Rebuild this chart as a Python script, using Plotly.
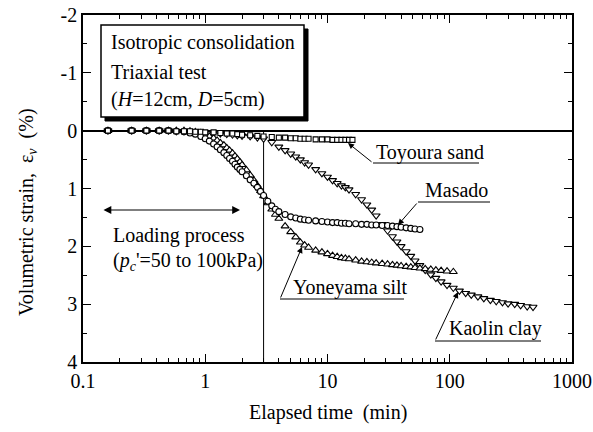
import plotly.graph_objects as go

# ---------------- data ----------------
toyoura_t = [0.16, 0.25, 0.33, 0.42, 0.5, 0.58, 0.67, 0.75, 0.83, 0.92, 1.0, 1.17, 1.33, 1.5,
             1.67, 1.83, 2.0, 2.33, 2.67, 3.0, 3.5, 4.0, 4.5, 5.0, 5.5, 6.0, 6.5, 7.0, 8.0, 9.0,
             10.0, 11.0, 12.0, 13.0, 14.0, 15.0, 16.0]
toyoura_e = [0, 0, 0, 0, 0, 0.01, 0.01, 0.01, 0.02, 0.02, 0.03, 0.03, 0.04, 0.05,
             0.05, 0.06, 0.07, 0.08, 0.09, 0.10, 0.11, 0.12, 0.12, 0.13, 0.13, 0.14, 0.14, 0.14, 0.15, 0.15,
             0.15, 0.16, 0.16, 0.16, 0.16, 0.16, 0.16]

masado_t = [0.16, 0.25, 0.33, 0.42, 0.5, 0.58, 0.67, 0.75, 0.83, 0.92, 1.0, 1.08, 1.17, 1.25,
            1.33, 1.42, 1.5, 1.58, 1.67, 1.75, 1.83, 1.92, 2.0, 2.17, 2.33, 2.5, 2.67, 2.83, 3.0,
            3.25, 3.5, 3.75, 4.0, 4.5, 5.0, 5.5, 6.0, 6.5, 7.0, 8.0, 9.0, 10, 11, 12, 13, 14, 15,
            17, 19, 21, 23, 25, 28, 31, 34, 37, 40, 44, 48, 52, 57]
masado_e = [0, 0, 0, 0, 0, 0.01, 0.02, 0.04, 0.06, 0.10, 0.14, 0.18, 0.23, 0.28,
            0.33, 0.38, 0.43, 0.48, 0.53, 0.58, 0.63, 0.67, 0.71, 0.78, 0.85, 0.91, 0.98, 1.05, 1.12,
            1.22, 1.30, 1.36, 1.40, 1.45, 1.49, 1.51, 1.53, 1.54, 1.55, 1.56, 1.57, 1.58, 1.59, 1.59, 1.60, 1.60, 1.61,
            1.61, 1.62, 1.62, 1.63, 1.63, 1.64, 1.64, 1.65, 1.66, 1.67, 1.68, 1.69, 1.70, 1.71]

yoneyama_t = [0.16, 0.25, 0.33, 0.42, 0.5, 0.58, 0.67, 0.75, 0.83, 0.92, 1.0, 1.08, 1.17, 1.25,
              1.33, 1.42, 1.5, 1.58, 1.67, 1.75, 1.83, 1.92, 2.0, 2.17, 2.33, 2.5, 2.67, 2.83, 3.0,
              3.25, 3.5, 3.75, 4.0, 4.5, 5.0, 5.5, 6.0, 6.5, 7.0, 8.0, 9.0, 10, 11, 12, 13, 14, 15,
              17, 19, 21, 23, 25, 28, 31, 34, 37, 40, 44, 48, 52, 57, 63, 70, 77, 85, 95, 107]
yoneyama_e = [0, 0, 0, 0, 0, 0, 0, 0.01, 0.02, 0.04, 0.07, 0.10, 0.13, 0.17,
              0.21, 0.25, 0.30, 0.34, 0.39, 0.44, 0.49, 0.54, 0.59, 0.68, 0.77, 0.86, 0.95, 1.04, 1.13,
              1.25, 1.36, 1.45, 1.52, 1.65, 1.75, 1.84, 1.93, 1.98, 2.02, 2.07, 2.10, 2.13, 2.16, 2.18, 2.20, 2.21, 2.22,
              2.24, 2.26, 2.27, 2.28, 2.29, 2.30, 2.31, 2.32, 2.33, 2.34, 2.35, 2.36, 2.37, 2.38, 2.39, 2.40, 2.41, 2.42, 2.43, 2.44]

kaolin_t = [0.16, 0.25, 0.33, 0.42, 0.5, 0.58, 0.67, 0.75, 0.83, 0.92, 1.0, 1.17, 1.33, 1.5,
            1.67, 1.83, 2.0, 2.33, 2.67, 3.0, 3.5, 4.0, 4.5, 5.0, 5.5, 6.0, 6.5, 7.0, 8.0, 9.0,
            10, 11, 12, 13, 14, 15, 17, 19, 21, 23, 25, 28, 31, 34, 37, 40, 44, 48, 52, 57, 63,
            70, 77, 85, 95, 107, 120, 135, 150, 170, 190, 215, 240, 270, 300, 340, 380, 430, 480]
kaolin_e = [0, 0, 0, 0, 0, 0.01, 0.01, 0.02, 0.02, 0.03, 0.03, 0.04, 0.05, 0.06,
            0.07, 0.08, 0.09, 0.10, 0.12, 0.14, 0.20, 0.28, 0.34, 0.40, 0.45, 0.50, 0.55, 0.59, 0.67, 0.74,
            0.80, 0.86, 0.91, 0.95, 0.98, 1.02, 1.10, 1.19, 1.28, 1.37, 1.47, 1.62, 1.73, 1.83, 1.92, 2.00, 2.09, 2.17, 2.25, 2.33, 2.41,
            2.49, 2.55, 2.61, 2.67, 2.72, 2.77, 2.81, 2.84, 2.87, 2.90, 2.93, 2.95, 2.97, 2.99, 3.00, 3.02, 3.04, 3.05]

loading_end_t = [3, 3]
loading_end_e = [0, 4]

x_tickvals = [0.1, 1, 10, 100, 1000]
x_ticktext = ["0.1", "1", "10", "100", "1000"]
x_minor = [m * 10 ** k for k in range(-1, 3) for m in range(2, 10)]
y_tickvals = [-2, -1, 0, 1, 2, 3, 4]
y_ticktext = ["-2", "-1", "0", "1", "2", "3", "4"]

FONT = "Liberation Serif"

# ---------------- layout geometry (pixels) ----------------
W, H = 593, 432
L, R, T, B = 83, 572, 15, 362


def px(x):
    return (x - L) / (R - L)


def py(y):
    return (B - y) / (B - T)


fig = go.Figure()

mk = dict(color="white", line=dict(color="black", width=1.1))
fig.add_trace(go.Scatter(x=loading_end_t, y=loading_end_e, mode="lines",
                         line=dict(color="black", width=1), showlegend=False, hoverinfo="skip"))
fig.add_trace(go.Scatter(x=kaolin_t, y=kaolin_e, mode="markers", name="Kaolin clay",
                         marker=dict(symbol="triangle-down", size=7, **mk)))
fig.add_trace(go.Scatter(x=yoneyama_t, y=yoneyama_e, mode="markers", name="Yoneyama silt",
                         marker=dict(symbol="triangle-up", size=7, **mk)))
fig.add_trace(go.Scatter(x=masado_t, y=masado_e, mode="markers", name="Masado",
                         marker=dict(symbol="circle", size=6, **mk)))
fig.add_trace(go.Scatter(x=toyoura_t, y=toyoura_e, mode="markers", name="Toyoura sand",
                         marker=dict(symbol="square", size=5, **mk)))

shapes = []
# info box with shadow
shapes.append(dict(type="rect", xref="paper", yref="paper", x0=px(105), x1=px(308), y0=py(121), y1=py(29),
                   fillcolor="black", line=dict(color="black", width=1)))
shapes.append(dict(type="rect", xref="paper", yref="paper", x0=px(101), x1=px(304), y0=py(117), y1=py(25),
                   fillcolor="white", line=dict(color="black", width=1.5)))
# label underlines
for x0, x1, y in [(373, 479, 163), (418, 490, 202), (280, 404, 299), (435, 541, 341)]:
    shapes.append(dict(type="line", xref="paper", yref="paper", x0=px(x0), x1=px(x1), y0=py(y), y1=py(y),
                       line=dict(color="black", width=1)))

ann = []


def text(x, y, s, anchor="left", size=20, **kw):
    ann.append(dict(xref="paper", yref="paper", x=px(x), y=py(y), text=s, showarrow=False,
                    xanchor=anchor, yanchor="middle", font=dict(family=FONT, size=size, color="black"), **kw))


text(109, 43, "Isotropic consolidation")
text(109, 72, "Triaxial test")
text(109, 100, "(<i>H</i>=12cm, <i>D</i>=5cm)")
text(374, 152, "Toyoura sand")
text(423, 190, "Masado")
text(291, 287, "Yoneyama silt")
text(447, 328, "Kaolin clay")
text(111, 235, "Loading process")
text(111, 261, "(<i>p<sub>c</sub></i>'=50 to 100kPa)")
text(327.5, 413, "Elapsed time  (min)", anchor="center")
text(27, 212, "Volumetric strain,  ε<sub><i>v</i></sub>  (%)", anchor="center", textangle=-90)

# arrows (tip, tail) in pixels
for (tx, ty), (sx, sy) in [((348, 143), (373, 163)), ((398, 225), (418, 202)),
                           ((302, 247), (280, 299)), ((458, 292), (435, 341))]:
    ann.append(dict(xref="paper", yref="paper", x=px(tx), y=py(ty), ax=sx - tx, ay=sy - ty,
                    text="", showarrow=True, arrowhead=2, arrowsize=1.2, arrowwidth=1, arrowcolor="black"))
# double arrow for loading process
ann.append(dict(xref="paper", yref="paper", x=px(240), y=py(210), ax=-138, ay=0, text="",
                showarrow=True, arrowhead=2, startarrowhead=2, arrowside="end+start",
                arrowsize=1.3, startarrowsize=1.3, arrowwidth=1.2, arrowcolor="black"))

fig.update_layout(
    width=W, height=H,
    margin=dict(l=L, r=W - R, t=T, b=H - B, autoexpand=False),
    paper_bgcolor="white", plot_bgcolor="white",
    showlegend=False,
    font=dict(family=FONT, size=20, color="black"),
    shapes=shapes, annotations=ann,
    xaxis=dict(type="log", range=[-1, 3], tickvals=x_tickvals, ticktext=x_ticktext,
               ticks="inside", ticklen=8, tickwidth=1, tickcolor="black",
               showline=True, linecolor="black", linewidth=1.5, mirror="allticks",
               showgrid=False, zeroline=False, automargin=False,
               minor=dict(tickvals=x_minor, ticks="inside", ticklen=4, tickwidth=1, tickcolor="black",
                          showgrid=False),
               tickfont=dict(family=FONT, size=20)),
    yaxis=dict(range=[4, -2], tickvals=y_tickvals, ticktext=y_ticktext,
               ticks="inside", ticklen=8, tickwidth=1, tickcolor="black",
               showline=True, linecolor="black", linewidth=1.5, mirror="allticks",
               showgrid=False, zeroline=True, zerolinecolor="black", zerolinewidth=1.5,
               automargin=False,
               minor=dict(tickvals=[-1.5, -0.5, 0.5, 1.5, 2.5, 3.5], ticks="inside", ticklen=4,
                          tickwidth=1, tickcolor="black", showgrid=False),
               tickfont=dict(family=FONT, size=20)),
)

fig.write_html("out.html", config={"displayModeBar": False},
               post_script="document.body.style.margin='0';document.body.style.padding='0';")
